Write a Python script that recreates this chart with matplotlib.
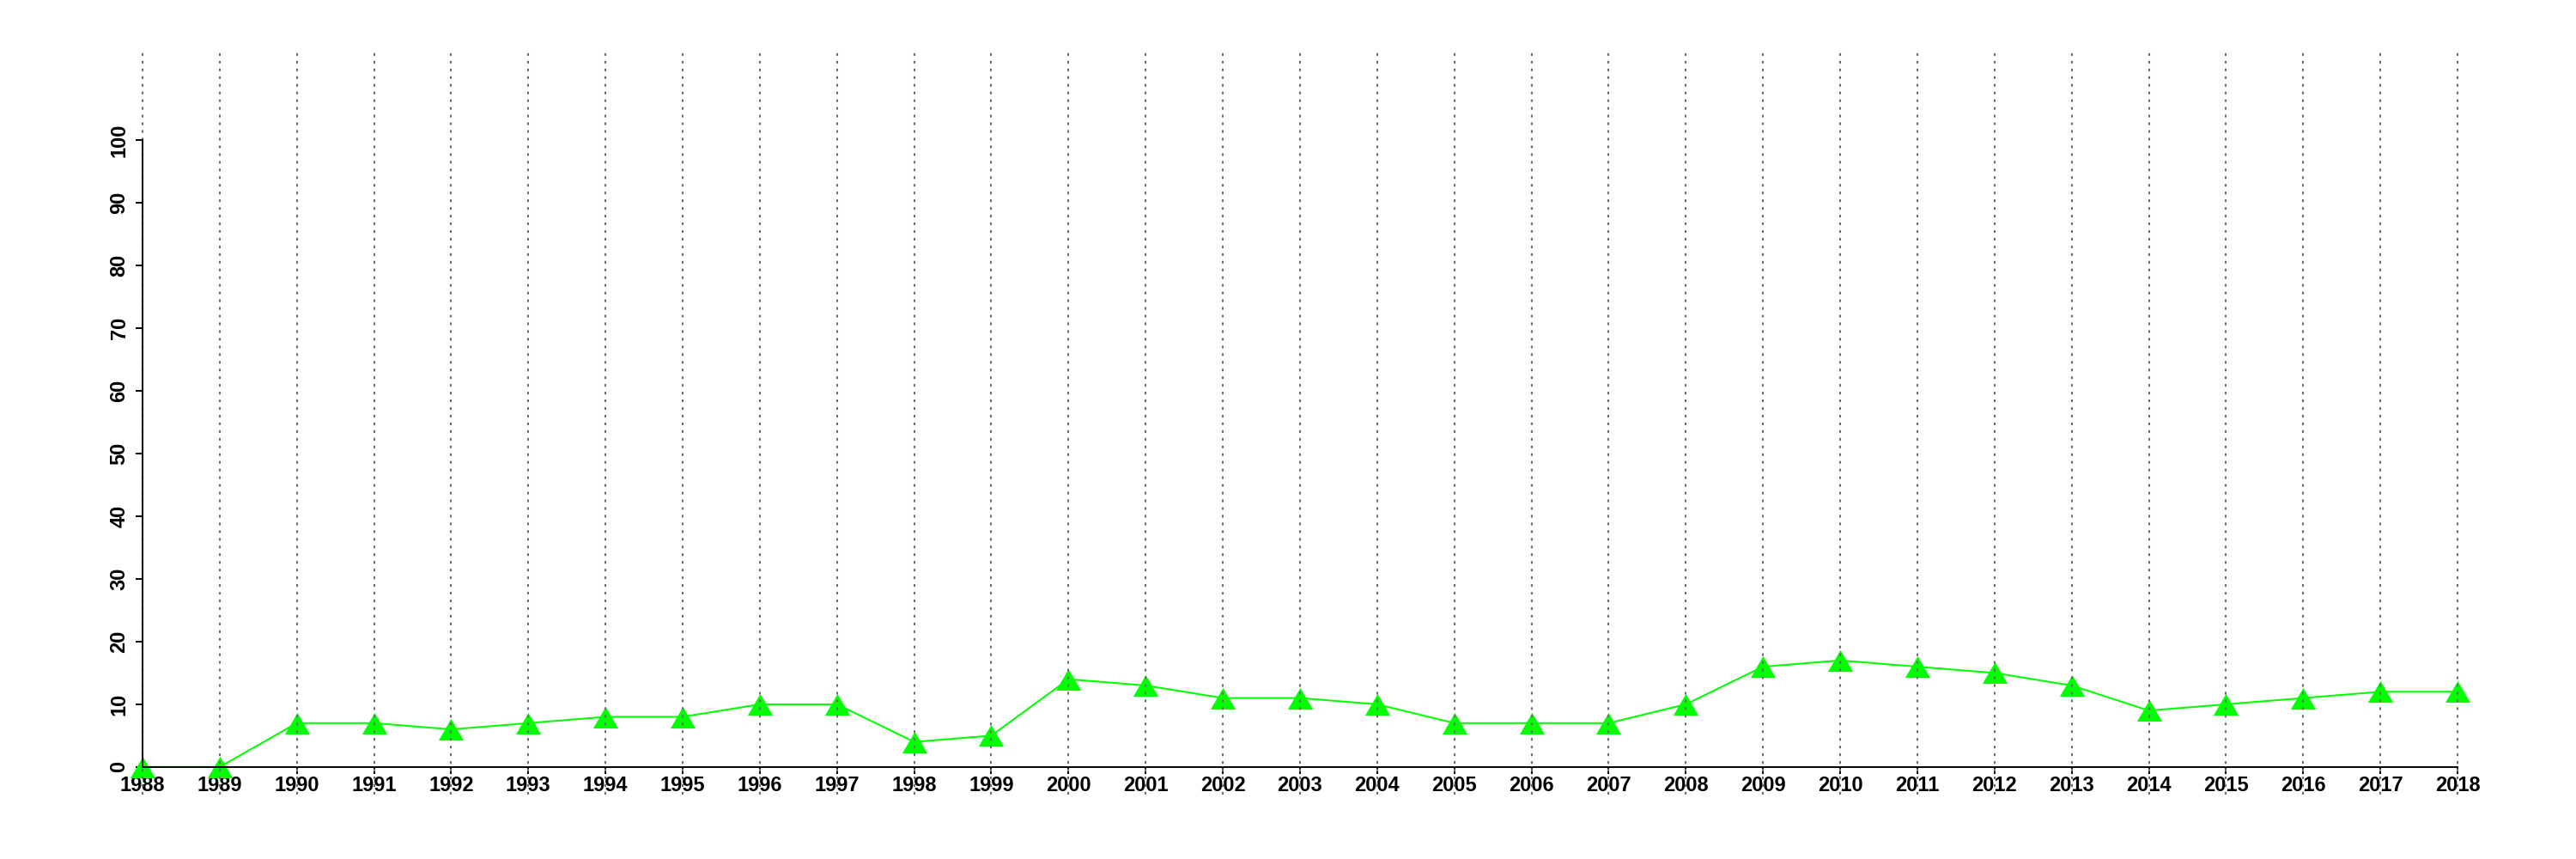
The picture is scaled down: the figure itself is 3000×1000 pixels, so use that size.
import matplotlib
matplotlib.use('Agg')
import matplotlib.pyplot as plt
from matplotlib.path import Path

# data
years = list(range(1988, 2019))
values = [0, 0, 7, 7, 6, 7, 8, 8, 10, 10, 4, 5, 14, 13, 11, 11, 10,
          7, 7, 7, 10, 16, 17, 16, 15, 13, 9, 10, 11, 12, 12]
y_ticks = list(range(0, 101, 10))

plt.rcParams['font.family'] = ['Liberation Sans', 'DejaVu Sans']
plt.rcParams['font.weight'] = 'bold'

# R-style filled triangle: a little wider than tall
tri = Path([(0, 1), (-1.16, -1), (1.16, -1), (0, 1)],
           [Path.MOVETO, Path.LINETO, Path.LINETO, Path.CLOSEPOLY])

fig = plt.figure(figsize=(30, 10), dpi=100)
ax = fig.add_axes([0.0553, 0.075, 0.954 - 0.0553, 0.942 - 0.075])

ax.plot(years, values, color='#00ff00', linewidth=1.45, marker=tri,
        markersize=21, markeredgewidth=0, zorder=3, clip_on=False)

# dotted vertical grid at every year, drawn over the data like the original
for yr in years:
    ax.axvline(yr, color='#6e6e6e', linewidth=1.5,
               linestyle=(0, (1.5, 2.8)), zorder=10, clip_on=False)

ax.set_xlim(1988, 2018)
ax.set_ylim(-4.4, 114.4)

for side in ['top', 'right']:
    ax.spines[side].set_visible(False)
ax.spines['left'].set_bounds(0, 100)
ax.spines['left'].set_linewidth(1.4)
ax.spines['left'].set_zorder(11)
ax.spines['bottom'].set_position(('data', 0))
ax.spines['bottom'].set_bounds(1988, 2018)
ax.spines['bottom'].set_linewidth(1.4)
ax.spines['bottom'].set_zorder(11)

ax.set_xticks(years)
ax.set_xticklabels([str(y) for y in years])
ax.set_yticks(y_ticks)
ax.set_yticklabels([str(v) for v in y_ticks], rotation=90, va='center')
ax.tick_params(axis='both', length=5.5, width=1.4, labelsize=17, color='black')
ax.tick_params(axis='x', pad=2)
ax.tick_params(axis='y', pad=5.5)

fig.savefig('out.png', dpi=100)
